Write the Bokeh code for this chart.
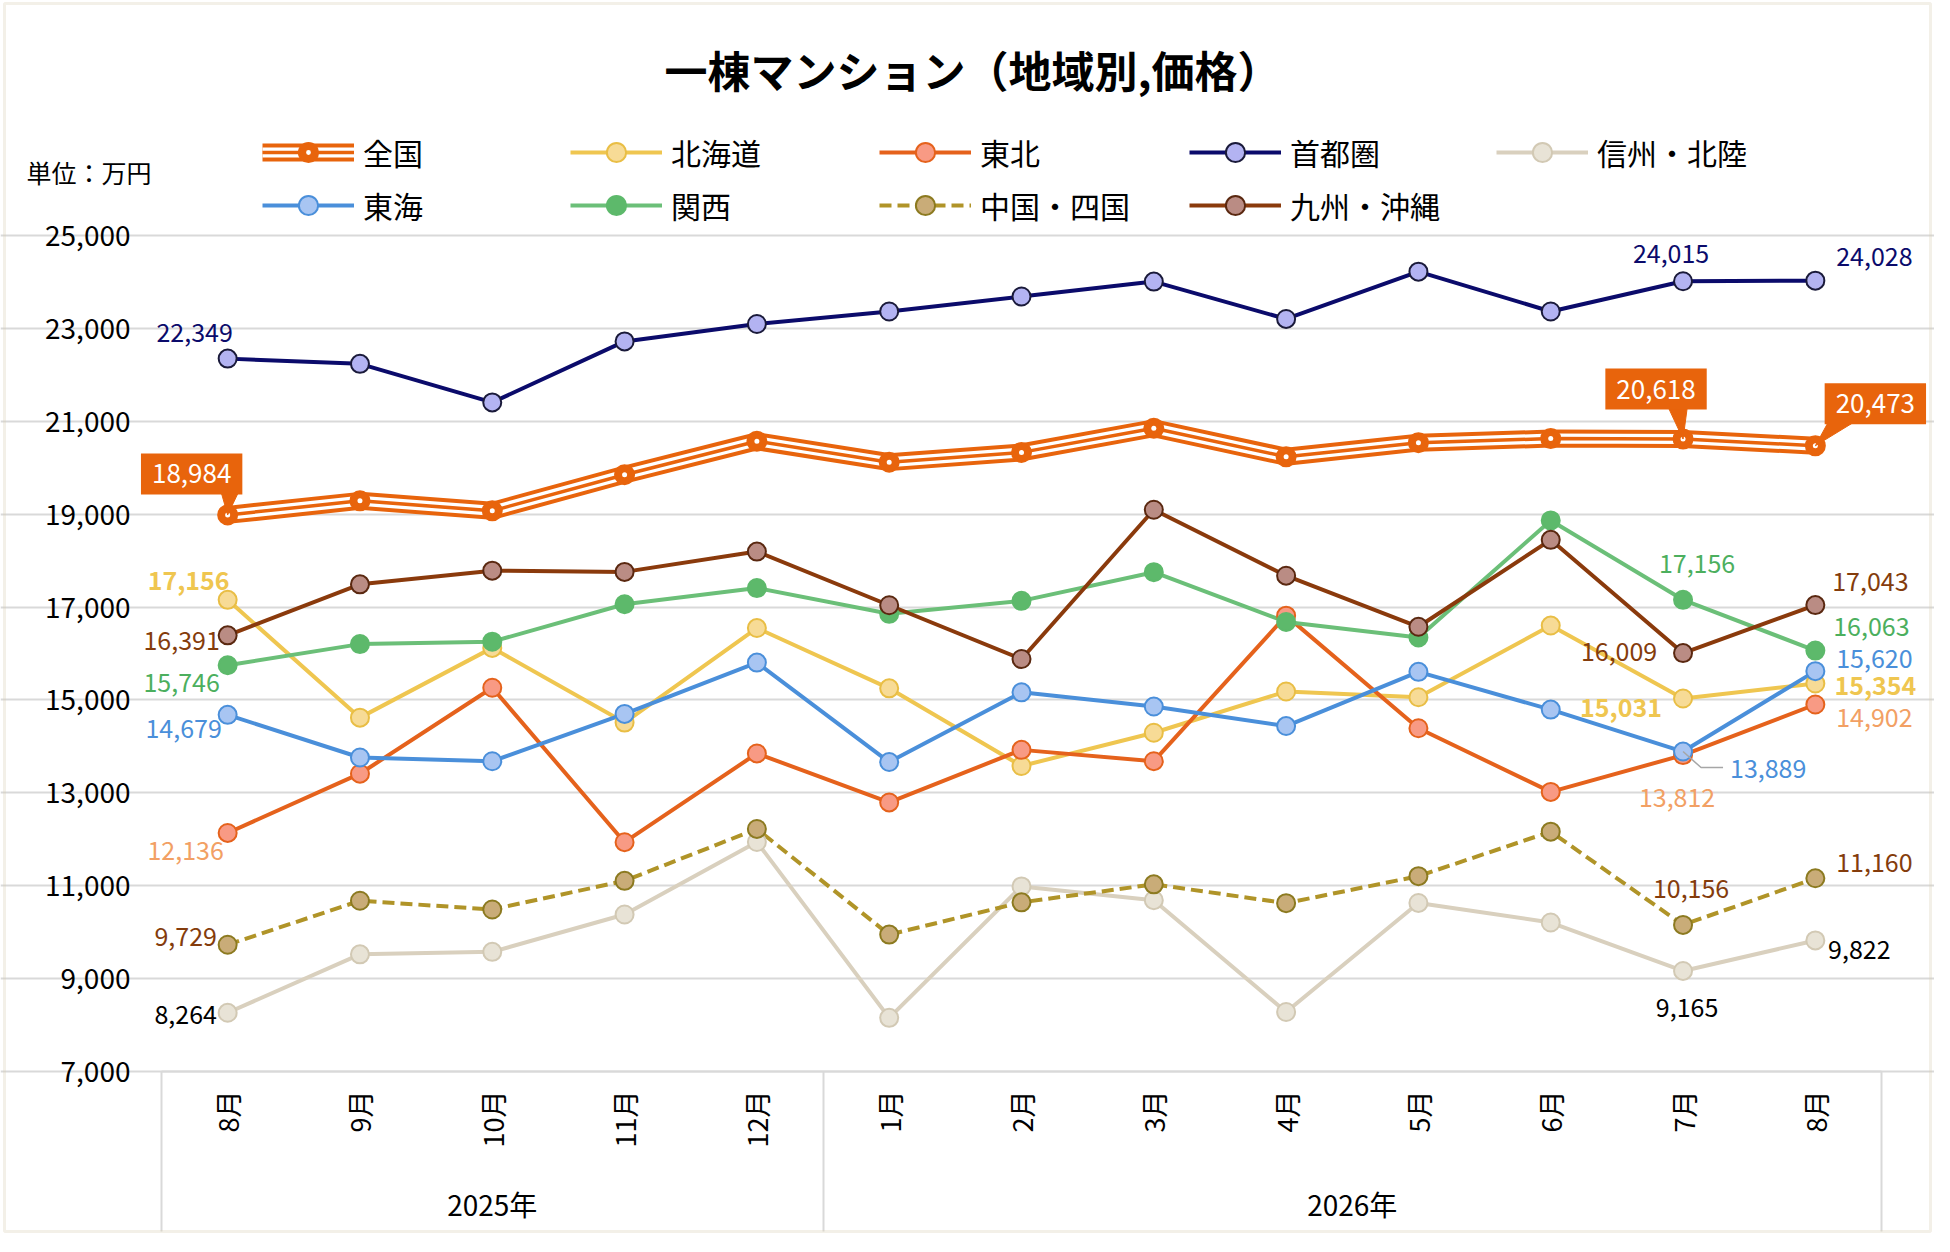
import math
from bokeh.plotting import figure
from bokeh.models import (Range1d, FixedTicker, LinearAxis, Label, Legend, LegendItem,
                          NumeralTickFormatter, ColumnDataSource, BoxAnnotation)
from bokeh.embed import file_html
from bokeh.resources import INLINE

# ---------------- data ----------------
months = ["8月", "9月", "10月", "11月", "12月", "1月", "2月", "3月", "4月", "5月", "6月", "7月", "8月"]
years = ["2025年", "2026年"]
months_per_year = [5, 8]
y_ticks = [7000, 9000, 11000, 13000, 15000, 17000, 19000, 21000, 23000, 25000]

series_names = ["全国", "北海道", "東北", "首都圏", "信州・北陸", "東海", "関西", "中国・四国", "九州・沖縄"]
zenkoku  = [18984, 19287, 19072, 19850, 20570, 20120, 20330, 20850, 20235, 20540, 20628, 20618, 20473]
hokkaido = [17156, 14619, 16121, 14512, 16548, 15250, 13578, 14294, 15182, 15058, 16602, 15031, 15354]
tohoku   = [12136, 13412, 15263, 11937, 13848, 12793, 13925, 13681, 16815, 14390, 13020, 13812, 14902]
shutoken = [22349, 22237, 21406, 22720, 23095, 23364, 23686, 24008, 23203, 24222, 23364, 24015, 24028]
shinshu  = [8264, 9523, 9577, 10381, 11942, 8155, 10985, 10688, 8281, 10629, 10208, 9165, 9822]
tokai    = [14679, 13761, 13680, 14700, 15805, 13663, 15164, 14858, 14438, 15605, 14792, 13889, 15620]
kansai   = [15746, 16202, 16255, 17060, 17409, 16854, 17134, 17751, 16679, 16345, 18865, 17156, 16063]
chugoku  = [9729, 10676, 10488, 11105, 12222, 9948, 10642, 11030, 10625, 11206, 12164, 10156, 11160]
kyushu   = [16391, 17489, 17784, 17757, 18194, 17039, 15881, 19095, 17675, 16575, 18448, 16009, 17043]

data = {"全国": zenkoku, "北海道": hokkaido, "東北": tohoku, "首都圏": shutoken, "信州・北陸": shinshu,
        "東海": tokai, "関西": kansai, "中国・四国": chugoku, "九州・沖縄": kyushu}

# ---------------- styles ----------------
FONT = "Noto Sans CJK JP"
ORANGE = "#E8640C"
GRID = "#d9d9d9"
styles = {
    "北海道":   dict(line="#EFC650", fill="#F7DB96", edge="#E9BE45", dash="solid"),
    "東北":     dict(line="#E5621C", fill="#F89A84", edge="#E5621C", dash="solid"),
    "首都圏":   dict(line="#0B0B6B", fill="#B3B3F2", edge="#1A1A3A", dash="solid"),
    "信州・北陸": dict(line="#D9D0BE", fill="#E8E3D6", edge="#D2C9B4", dash="solid"),
    "東海":     dict(line="#4A8FDA", fill="#A8C5F2", edge="#4A8FDA", dash="solid"),
    "関西":     dict(line="#6BBF78", fill="#5DB96B", edge="#5DB96B", dash="solid"),
    "中国・四国": dict(line="#B09428", fill="#C9AC78", edge="#8C7A20", dash="12 6"),
    "九州・沖縄": dict(line="#8A3A0C", fill="#BA8C84", edge="#5A2810", dash="solid"),
}

# canvas and plot-area geometry (px)
FIG_W, FIG_H = 1934, 1236
PL, PR, PT, PB = 161, 1881, 235, 1071

n = len(months)
xs = [i + 0.5 for i in range(n)]
y0, y1 = y_ticks[0], y_ticks[-1]
UX = n / (PR - PL)          # data units per px (x)
UY = (y1 - y0) / (PB - PT)  # data units per px (y)

p = figure(width=FIG_W, height=FIG_H,
           x_range=Range1d(0 - PL * UX, n + (FIG_W - PR) * UX),
           y_range=Range1d(y0 - (FIG_H - PB) * UY, y1 + PT * UY),
           output_backend="svg", toolbar_location=None,
           min_border_left=0, min_border_right=0, min_border_top=0, min_border_bottom=0)
p.title_location = None
p.outline_line_color = None
p.background_fill_color = "white"
p.border_fill_color = "white"

# y axis (fixed at x = 0)
ya = p.yaxis[0]
ya.fixed_location = 0
ya.ticker = FixedTicker(ticks=y_ticks)
ya.formatter = NumeralTickFormatter(format="0,0")
ya.axis_line_color = None
ya.major_tick_line_color = None
ya.major_tick_out = 0
ya.major_tick_in = 0
ya.minor_tick_line_color = None
ya.major_label_standoff = 31
ya.major_label_text_font = FONT
ya.major_label_text_font_size = "28px"
ya.major_label_text_color = "#000000"

p.ygrid.ticker = FixedTicker(ticks=y_ticks)
p.ygrid.bounds = (0, n)
p.ygrid.grid_line_color = GRID
p.ygrid.grid_line_width = 2
p.xgrid.visible = False

# month axis (fixed at the lowest tick)
seps = [0]
for m in months_per_year:
    seps.append(seps[-1] + m)
SEP_LEN = 160
xa = p.xaxis[0]
xa.fixed_location = y0
xa.bounds = (0, n)
xa.ticker = FixedTicker(ticks=xs, minor_ticks=seps)
xa.major_label_overrides = {x: m for x, m in zip(xs, months)}
xa.major_label_orientation = math.pi / 2
xa.major_tick_line_color = None
xa.major_tick_out = 0
xa.major_tick_in = 0
xa.minor_tick_line_color = GRID
xa.minor_tick_line_width = 2
xa.minor_tick_out = SEP_LEN
xa.minor_tick_in = 0
xa.axis_line_color = GRID
xa.axis_line_width = 2
xa.major_label_standoff = 19 - SEP_LEN
xa.major_label_text_font = FONT
xa.major_label_text_font_size = "27px"
xa.major_label_text_color = "#000000"

# year axis
year_centers = [(seps[i] + seps[i + 1]) / 2 for i in range(len(years))]
yr = LinearAxis(ticker=FixedTicker(ticks=year_centers),
                major_label_overrides={c: y for c, y in zip(year_centers, years)})
yr.fixed_location = y0
yr.axis_line_color = None
yr.major_tick_line_color = None
yr.major_tick_out = 0
yr.major_tick_in = 0
yr.minor_tick_line_color = None
yr.minor_tick_out = 0
yr.major_label_standoff = 112
yr.major_label_text_font = FONT
yr.major_label_text_font_size = "28px"
yr.major_label_text_color = "#000000"
p.add_layout(yr, "below")

# ---------------- series ----------------
renderers = {}
src = ColumnDataSource(dict(x=xs, y=zenkoku))
z1 = p.line("x", "y", source=src, line_color=ORANGE, line_width=18, line_join="round")
z2 = p.line("x", "y", source=src, line_color="white", line_width=10, line_join="round")
z3 = p.line("x", "y", source=src, line_color=ORANGE, line_width=3.5, line_join="round")
renderers["全国"] = [z1, z2, z3]

sources = {}
for name in series_names[1:]:
    st = styles[name]
    s = ColumnDataSource(dict(x=xs, y=data[name]))
    sources[name] = s
    ln = p.line("x", "y", source=s, line_color=st["line"], line_width=4, line_dash=st["dash"],
                line_join="round")
    renderers[name] = [ln]

# markers after lines
zm1 = p.scatter("x", "y", source=src, size=19, fill_color=ORANGE, line_color=ORANGE, line_width=2)
zm2 = p.scatter("x", "y", source=src, marker="dot", size=20, line_color="white", fill_color="white")
renderers["全国"] += [zm1, zm2]
for name in series_names[1:]:
    st = styles[name]
    mk = p.scatter("x", "y", source=sources[name], size=18, fill_color=st["fill"],
                   line_color=st["edge"], line_width=2)
    renderers[name].append(mk)

# ---------------- callouts for 全国 ----------------
callouts = [  # idx, dx, dy, pointer base offsets (x0, x1, y)
    (0, -36, 41, (-6, 10, 21)),
    (11, -27, 50, (-14, 4, 30)),
    (12, 60, 42, (12, 36, 22)),
]
for idx, dx, dy, (bx0, bx1, by) in callouts:
    v = zenkoku[idx]
    x = xs[idx]
    p.patch([x + bx0 * UX, x + bx1 * UX, x], [v + by * UY, v + by * UY, v],
            fill_color=ORANGE, line_color=ORANGE, line_width=1)
    p.add_layout(Label(x=x, y=v, text=f"{v:,}", x_offset=dx, y_offset=dy,
                       text_align="center", text_baseline="middle",
                       text_font=FONT, text_font_size="26px", text_color="white",
                       background_fill_color=ORANGE, padding=11))

# leader line for 東海 7月
li = 11
lv = tokai[li]
p.line([xs[li], xs[li] + 18 * UX, xs[li] + 40 * UX], [lv, lv - 16 * UY, lv - 16 * UY],
       line_color="#a6a6a6", line_width=1.5)

# ---------------- data labels ----------------
label_color = {"北海道": "#EFC650", "東北": "#F2A064", "首都圏": "#0B0B6B", "信州・北陸": "#000000",
               "東海": "#4A8FDA", "関西": "#4CAF5E", "中国・四国": "#843C0C", "九州・沖縄": "#843C0C"}
label_specs = [  # name, idx, dx, dy
    ("首都圏", 0, -33, 26), ("首都圏", 11, -12, 28), ("首都圏", 12, 59, 24),
    ("北海道", 0, -39, 19), ("北海道", 11, -62, -9), ("北海道", 12, 60, -2),
    ("九州・沖縄", 0, -46, -5), ("九州・沖縄", 11, -64, 2), ("九州・沖縄", 12, 55, 24),
    ("関西", 0, -46, -17), ("関西", 11, 14, 36), ("関西", 12, 56, 24),
    ("東海", 0, -44, -14), ("東海", 12, 59, 13),
    ("東北", 0, -42, -18), ("東北", 11, -6, -42), ("東北", 12, 59, -13),
    ("中国・四国", 0, -42, 8), ("中国・四国", 11, 8, 36), ("中国・四国", 12, 59, 16),
    ("信州・北陸", 0, -42, -2), ("信州・北陸", 11, 4, -37), ("信州・北陸", 12, 44, -9),
]
for name, idx, dx, dy in label_specs:
    v = data[name][idx]
    p.add_layout(Label(x=xs[idx], y=v, text=f"{v:,}", x_offset=dx, y_offset=dy,
                       text_align="center", text_baseline="middle",
                       text_font=FONT, text_font_size="25px", text_color=label_color[name],
                       text_font_style="bold" if name == "北海道" else "normal"))
v = tokai[li]
p.add_layout(Label(x=xs[li], y=v, text=f"{v:,}", x_offset=47, y_offset=-17,
                   text_align="left", text_baseline="middle",
                   text_font=FONT, text_font_size="25px", text_color=label_color["東海"]))

# ---------------- legends ----------------
legend_cols = [["全国", "東海"], ["北海道", "関西"], ["東北", "中国・四国"],
               ["首都圏", "九州・沖縄"], ["信州・北陸"]]
col_x = [262, 570, 879, 1189, 1496]
LEG_TOP = 128
for cols, cx in zip(legend_cols, col_x):
    items = [LegendItem(label=nm, renderers=renderers[nm]) for nm in cols]
    h = 48 * len(cols) + 5 * (len(cols) - 1)
    leg = Legend(items=items, location=(cx, FIG_H - LEG_TOP - h), orientation="vertical",
                 padding=0, margin=0, spacing=5, glyph_width=92, glyph_height=48,
                 label_height=48, label_standoff=9,
                 label_text_font=FONT, label_text_font_size="30px", label_text_color="#000000",
                 background_fill_alpha=0, border_line_color=None)
    p.add_layout(leg)

# ---------------- title / unit ----------------
p.add_layout(Label(x=972, y=FIG_H - 68, x_units="screen", y_units="screen",
                   text="一棟マンション（地域別,価格）", text_align="center", text_baseline="middle",
                   text_font=FONT, text_font_size="43px", text_font_style="bold",
                   text_color="#000000"))
p.add_layout(Label(x=26, y=FIG_H - 171, x_units="screen", y_units="screen",
                   text="単位：万円", text_align="left", text_baseline="middle",
                   text_font=FONT, text_font_size="25px", text_color="#000000"))

# outer frame
p.add_layout(BoxAnnotation(left=4, right=FIG_W - 4, bottom=5, top=FIG_H - 3,
                           left_units="screen", right_units="screen",
                           bottom_units="screen", top_units="screen",
                           fill_alpha=0, line_color="#d6cdb4", line_width=3))

open("out.html", "w").write(file_html(p, INLINE))
